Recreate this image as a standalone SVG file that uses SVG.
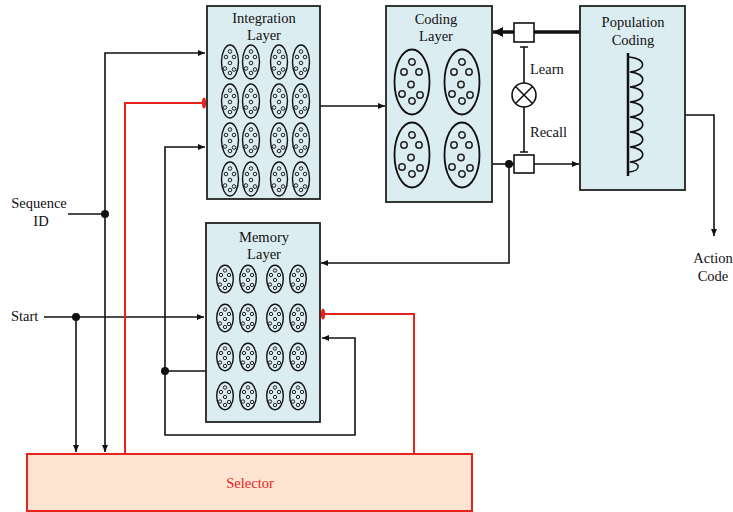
<svg xmlns="http://www.w3.org/2000/svg" xmlns:xlink="http://www.w3.org/1999/xlink" width="733" height="512" viewBox="0 0 733 512">
<style>
.box{fill:#DCEDF1;stroke:#222;stroke-width:1.8}
.t{font-family:"Liberation Serif","Times New Roman",serif;font-size:14.5px;fill:#111;text-anchor:middle}
.tl{font-family:"Liberation Serif","Times New Roman",serif;font-size:14.5px;fill:#111}
.c{fill:none;stroke:#111;stroke-width:1.6}
.r{fill:none;stroke:#E8231E;stroke-width:2}
.el{fill:none;stroke:#111;stroke-width:1.4}
.d{fill:none;stroke:#222;stroke-width:1}
.dot{fill:#111}
</style>
<defs>
<marker id="ah" markerWidth="8" markerHeight="8" refX="7" refY="4" orient="auto" markerUnits="userSpaceOnUse"><path d="M0,1 L7,4 L0,7 Z" fill="#111"/></marker>
<marker id="ahb" markerWidth="12" markerHeight="12" refX="10" refY="6" orient="auto" markerUnits="userSpaceOnUse"><path d="M0,1 L10,6 L0,11 Z" fill="#111"/></marker>
<g id="se">
<ellipse rx="8.5" ry="17" class="el"/>
<circle cx="0" cy="-10.5" r="1.8" class="d"/><circle cx="-4" cy="-5" r="1.8" class="d"/><circle cx="4" cy="-5" r="1.8" class="d"/><circle cx="0" cy="1" r="1.8" class="d"/><circle cx="-5" cy="6.5" r="1.8" class="d"/><circle cx="4" cy="7.5" r="1.8" class="d"/><circle cx="0" cy="11" r="1.8" class="d"/>
</g>
<g id="me">
<ellipse rx="8.3" ry="13.7" class="el"/>
<circle cx="0" cy="-8.5" r="1.7" class="d"/><circle cx="-4" cy="-4" r="1.7" class="d"/><circle cx="4" cy="-4" r="1.7" class="d"/><circle cx="0" cy="1" r="1.7" class="d"/><circle cx="-5" cy="5.5" r="1.7" class="d"/><circle cx="4" cy="6" r="1.7" class="d"/><circle cx="0" cy="9" r="1.7" class="d"/>
</g>
<g id="le">
<ellipse rx="17.5" ry="32.5" class="el" style="stroke-width:1.8"/>
<circle cx="0" cy="-20" r="3.2" class="d" style="stroke-width:1.5"/><circle cx="-8" cy="-10" r="3.2" class="d" style="stroke-width:1.5"/><circle cx="7" cy="-10" r="3.2" class="d" style="stroke-width:1.5"/><circle cx="-1" cy="2.5" r="3.2" class="d" style="stroke-width:1.5"/><circle cx="-10" cy="12" r="3.2" class="d" style="stroke-width:1.5"/><circle cx="8" cy="13" r="3.2" class="d" style="stroke-width:1.5"/><circle cx="0" cy="19" r="3.2" class="d" style="stroke-width:1.5"/>
</g>
</defs>
<rect width="733" height="512" fill="#fff"/>

<g id="connectors">
<path class="c" d="M68,214 H105"/>
<path class="c" d="M105,214 V53 H205" marker-end="url(#ah)"/>
<path class="c" d="M105,214 V452" marker-end="url(#ah)"/>
<circle class="dot" cx="105" cy="214" r="4"/>
<path class="c" d="M44,317 H204" marker-end="url(#ah)"/>
<path class="c" d="M76,317 V452" marker-end="url(#ah)"/>
<circle class="dot" cx="76" cy="317" r="4"/>
<path class="r" d="M125,454 V103 H203"/>
<ellipse cx="204" cy="103" rx="2.2" ry="5.5" fill="#E8231E"/>
<path class="c" d="M206,371 H165"/>
<path class="c" d="M165,371 V147 H205" marker-end="url(#ah)"/>
<path class="c" d="M165,371 V435 H355 V338 H322" marker-end="url(#ah)"/>
<circle class="dot" cx="165" cy="371" r="4"/>
<path class="c" d="M320,106 H385" marker-end="url(#ah)"/>
<path class="c" d="M492,164 H514"/>
<path class="c" d="M534,164 H579" marker-end="url(#ah)"/>
<path class="c" d="M509,164 V263 H321" marker-end="url(#ah)"/>
<circle class="dot" cx="509" cy="164" r="4"/>
<path class="c" d="M580,32 H534" style="stroke-width:3.5"/>
<path class="c" d="M514,32 H493" style="stroke-width:3.5" marker-end="url(#ahb)"/>
<rect x="514" y="23" width="20" height="19" fill="#fff" stroke="#111" stroke-width="1.6"/>
<rect x="514" y="155" width="20" height="18" fill="#fff" stroke="#111" stroke-width="1.6"/>
<path class="c" d="M520,47 H528 M524,47 V83 M524,107 V152 M520,152 H528"/>
<circle cx="524" cy="95" r="12" fill="#fff" stroke="#111" stroke-width="1.6"/>
<path class="c" d="M515.5,86.5 L532.5,103.5 M532.5,86.5 L515.5,103.5"/>
<path class="c" d="M685,115 H714 V236" marker-end="url(#ah)"/>
<path class="r" d="M414,454 V314 H323"/>
<ellipse cx="323" cy="314" rx="2.2" ry="5.5" fill="#E8231E"/>
</g>

<g id="integration">
<rect class="box" x="207" y="6" width="113" height="193"/>
<text class="t" x="264" y="23">Integration</text>
<text class="t" x="264" y="40">Layer</text>
<use href="#se" x="230" y="62"/><use href="#se" x="251" y="62"/><use href="#se" x="279" y="62"/><use href="#se" x="301" y="62"/>
<use href="#se" x="230" y="101"/><use href="#se" x="251" y="101"/><use href="#se" x="279" y="101"/><use href="#se" x="301" y="101"/>
<use href="#se" x="230" y="140"/><use href="#se" x="251" y="140"/><use href="#se" x="279" y="140"/><use href="#se" x="301" y="140"/>
<use href="#se" x="230" y="179"/><use href="#se" x="251" y="179"/><use href="#se" x="279" y="179"/><use href="#se" x="301" y="179"/>
</g>

<g id="coding">
<rect class="box" x="386" y="6" width="106" height="196"/>
<text class="t" x="436" y="24">Coding</text>
<text class="t" x="436" y="41">Layer</text>
<use href="#le" x="412" y="82"/><use href="#le" x="462" y="82"/>
<use href="#le" x="412" y="155"/><use href="#le" x="462" y="155"/>
</g>

<g id="population">
<rect class="box" x="580" y="6" width="105" height="184"/>
<text class="t" x="633" y="27">Population</text>
<text class="t" x="633" y="45">Coding</text>
<path d="M628,53 V176" fill="none" stroke="#111" stroke-width="2.5"/>
<path d="M629,57 C647,59 647,70 630,72 C647,74 647,85 630,87 C647,89 647,100 630,102 C647,104 647,115 630,117 C647,119 647,130 630,132 C647,134 647,145 630,147 C647,149 647,160 630,162 C642,163 640,171 629,172" fill="none" stroke="#111" stroke-width="1.5"/>
</g>

<g id="memory">
<rect class="box" x="206" y="223" width="114" height="199"/>
<text class="t" x="264" y="242">Memory</text>
<text class="t" x="264" y="259">Layer</text>
<use href="#me" x="225" y="279"/><use href="#me" x="248" y="279"/><use href="#me" x="275" y="279"/><use href="#me" x="298" y="279"/>
<use href="#me" x="225" y="318"/><use href="#me" x="248" y="318"/><use href="#me" x="275" y="318"/><use href="#me" x="298" y="318"/>
<use href="#me" x="225" y="357"/><use href="#me" x="248" y="357"/><use href="#me" x="275" y="357"/><use href="#me" x="298" y="357"/>
<use href="#me" x="225" y="396"/><use href="#me" x="248" y="396"/><use href="#me" x="275" y="396"/><use href="#me" x="298" y="396"/>
</g>

<g id="selector">
<rect x="27" y="454" width="445" height="57" fill="#FDE4D0" stroke="#E8231E" stroke-width="2"/>
<text class="t" x="250" y="488" style="fill:#E8231E">Selector</text>
</g>

<g id="labels">
<text class="tl" x="530" y="74">Learn</text>
<text class="tl" x="530" y="137">Recall</text>
<text class="t" x="39" y="208">Sequence</text>
<text class="t" x="41" y="226">ID</text>
<text class="tl" x="11" y="321">Start</text>
<text class="t" x="713" y="263">Action</text>
<text class="t" x="713" y="281">Code</text>
</g>
</svg>
